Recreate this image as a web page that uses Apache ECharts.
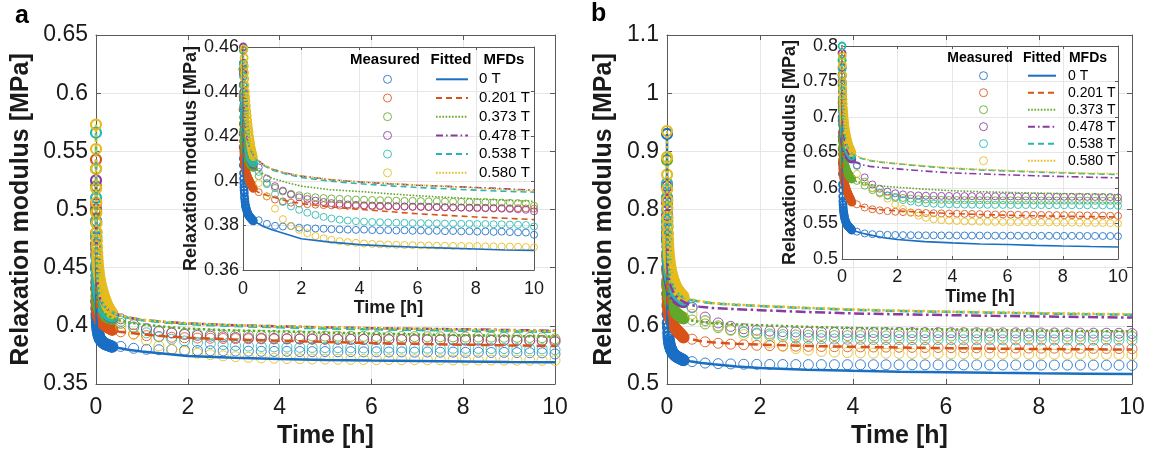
<!DOCTYPE html>
<html><head><meta charset="utf-8">
<script src="https://cdn.jsdelivr.net/npm/echarts@6/dist/echarts.min.js"></script>
<style>html,body{margin:0;padding:0;background:#fff}#c{width:1153px;height:456px}</style>
</head><body><div id="c"></div>
<script>
// ---------- data ----------
const mfdLabels = ['0 T', '0.201 T', '0.373 T', '0.478 T', '0.538 T', '0.580 T'];
const xTicksHours = [0, 2, 4, 6, 8, 10];
const yTicksMainA = [0.35, 0.4, 0.45, 0.5, 0.55, 0.6, 0.65];
const yTicksInsetA = [0.36, 0.38, 0.4, 0.42, 0.44, 0.46];
const yTicksMainB = [0.5, 0.6, 0.7, 0.8, 0.9, 1, 1.1];
const yTicksInsetB = [0.5, 0.55, 0.6, 0.65, 0.7, 0.75, 0.8];

// measurement times [h]: dense start (37) + regular samples (35)
const timeMeasured = [0, 0.001, 0.002, 0.004, 0.006, 0.008, 0.011, 0.014, 0.018, 0.022, 0.027, 0.032, 0.038, 0.045, 0.052, 0.06, 0.07, 0.08, 0.09, 0.1,
  0.115, 0.13, 0.145, 0.16, 0.175, 0.19, 0.205, 0.22, 0.235, 0.25, 0.265, 0.28, 0.295, 0.31, 0.325, 0.34, 0.355,
  0.54, 0.82, 1.10, 1.37, 1.65, 1.93, 2.21, 2.49, 2.77, 3.04, 3.32, 3.60, 3.88, 4.16, 4.44, 4.71, 4.99, 5.27, 5.55, 5.83,
  6.11, 6.38, 6.66, 6.94, 7.22, 7.50, 7.78, 8.05, 8.33, 8.61, 8.89, 9.17, 9.45, 9.72, 10.0];
const timeFitted = [0, 0.005, 0.01, 0.02, 0.04, 0.07, 0.1, 0.15, 0.2, 0.3, 0.4, 0.5, 0.7, 1, 1.5, 2, 3, 4, 5, 6, 7, 8, 9, 10];

// panel a, measured
const measA_0 = [0.500, 0.470, 0.450, 0.432, 0.421, 0.415, 0.410, 0.407, 0.4035, 0.401, 0.399, 0.3972, 0.3958, 0.3945, 0.3928, 0.3918, 0.3905, 0.3892, 0.3886, 0.3880,
  0.3874, 0.3866, 0.3860, 0.3856, 0.3849, 0.3847, 0.3843, 0.3841, 0.3838, 0.3836, 0.3833, 0.3831, 0.3829, 0.3827, 0.3824, 0.3822, 0.3820,
  0.3823, 0.3807, 0.3798, 0.3795, 0.3797, 0.3790, 0.3788, 0.3786, 0.3785, 0.3783, 0.3782, 0.3781, 0.3780, 0.3781, 0.3779, 0.3778, 0.3779, 0.3777, 0.3778, 0.3776,
  0.3777, 0.3775, 0.3776, 0.3774, 0.3775, 0.3773, 0.3774, 0.3772, 0.3773, 0.3771, 0.3772, 0.3770, 0.3769, 0.3768, 0.3758];
const measA_201 = [0.543, 0.500, 0.470, 0.450, 0.438, 0.432, 0.4255, 0.4215, 0.4178, 0.4155, 0.4132, 0.4118, 0.4102, 0.4092, 0.4080, 0.4072, 0.4062, 0.4052, 0.4046, 0.4040,
  0.4033, 0.4027, 0.4021, 0.4016, 0.4011, 0.4008, 0.4003, 0.3999, 0.3995, 0.3991, 0.3987, 0.3983, 0.3980, 0.3977, 0.3973, 0.3970, 0.3966,
  0.3949, 0.3930, 0.3916, 0.3908, 0.3902, 0.3898, 0.3895, 0.3893, 0.3891, 0.3890, 0.3889, 0.3888, 0.3887, 0.3887, 0.3886, 0.3885, 0.3885, 0.3884, 0.3884, 0.3883,
  0.3883, 0.3882, 0.3882, 0.3881, 0.3881, 0.3880, 0.3880, 0.3879, 0.3879, 0.3878, 0.3878, 0.3877, 0.3877, 0.3876, 0.3875];
const measA_373 = [0.520, 0.498, 0.480, 0.462, 0.450, 0.443, 0.4365, 0.4325, 0.4285, 0.4258, 0.4232, 0.4213, 0.4196, 0.4182, 0.4170, 0.4160, 0.4148, 0.4136, 0.4127, 0.4120,
  0.4113, 0.4106, 0.4101, 0.4097, 0.4092, 0.4089, 0.4085, 0.4081, 0.4078, 0.4076, 0.4073, 0.4071, 0.4069, 0.4067, 0.4065, 0.4063, 0.4060,
  0.4021, 0.3990, 0.3968, 0.3952, 0.3942, 0.3935, 0.3930, 0.3926, 0.3923, 0.3921, 0.3919, 0.3918, 0.3916, 0.3915, 0.3914, 0.3913, 0.3912, 0.3911, 0.3910, 0.3910,
  0.3909, 0.3908, 0.3908, 0.3907, 0.3906, 0.3906, 0.3905, 0.3904, 0.3904, 0.3903, 0.3902, 0.3901, 0.3900, 0.3898, 0.3888];
const measA_478 = [0.525, 0.505, 0.490, 0.476, 0.466, 0.460, 0.4528, 0.4480, 0.4432, 0.4398, 0.4365, 0.4340, 0.4315, 0.4293, 0.4275, 0.4258, 0.4240, 0.4222, 0.4208, 0.4195,
  0.4180, 0.4168, 0.4158, 0.4148, 0.4138, 0.4130, 0.4122, 0.4114, 0.4107, 0.4101, 0.4096, 0.4091, 0.4087, 0.4083, 0.4080, 0.4077, 0.4074,
  0.4060, 0.4010, 0.3976, 0.3956, 0.3938, 0.3926, 0.3918, 0.3911, 0.3905, 0.3900, 0.3897, 0.3894, 0.3892, 0.3890, 0.3889, 0.3888, 0.3887, 0.3886, 0.3885, 0.3884,
  0.3884, 0.3883, 0.3882, 0.3881, 0.3880, 0.3880, 0.3879, 0.3878, 0.3877, 0.3876, 0.3875, 0.3874, 0.3872, 0.3870, 0.3863];
const measA_538 = [0.566, 0.535, 0.510, 0.490, 0.477, 0.468, 0.4585, 0.4525, 0.4468, 0.4428, 0.4390, 0.4362, 0.4335, 0.4310, 0.4290, 0.4272, 0.4252, 0.4232, 0.4215, 0.4200,
  0.4182, 0.4168, 0.4156, 0.4146, 0.4136, 0.4128, 0.4120, 0.4113, 0.4108, 0.4103, 0.4099, 0.4095, 0.4091, 0.4088, 0.4085, 0.4082, 0.4079,
  0.4040, 0.3985, 0.3940, 0.3905, 0.3885, 0.3870, 0.3857, 0.3847, 0.3838, 0.3831, 0.3826, 0.3822, 0.3819, 0.3817, 0.3815, 0.3814, 0.3813, 0.3812, 0.3811, 0.3810,
  0.3810, 0.3809, 0.3809, 0.3808, 0.3808, 0.3807, 0.3807, 0.3806, 0.3806, 0.3805, 0.3805, 0.3804, 0.3803, 0.3802, 0.3795];
const measA_580 = [0.573, 0.552, 0.535, 0.518, 0.506, 0.497, 0.4880, 0.4805, 0.4735, 0.4680, 0.4628, 0.4590, 0.4552, 0.4515, 0.4485, 0.4458, 0.4428, 0.4400, 0.4378, 0.4360,
  0.4335, 0.4312, 0.4292, 0.4272, 0.4253, 0.4235, 0.4218, 0.4202, 0.4188, 0.4175, 0.4162, 0.4150, 0.4140, 0.4131, 0.4123, 0.4115, 0.4108,
  0.3990, 0.3930, 0.3875, 0.3828, 0.3797, 0.3780, 0.3765, 0.3752, 0.3742, 0.3735, 0.3729, 0.3725, 0.3722, 0.3719, 0.3717, 0.3715, 0.3714, 0.3713, 0.3712, 0.3711,
  0.3710, 0.3710, 0.3709, 0.3709, 0.3708, 0.3708, 0.3707, 0.3707, 0.3706, 0.3706, 0.3705, 0.3705, 0.3704, 0.3703, 0.3702];

// panel a, fitted
const fitA_0   = [0.500, 0.430, 0.410, 0.400, 0.394, 0.390, 0.388, 0.386, 0.3845, 0.3828, 0.3818, 0.3810, 0.3795, 0.3780, 0.3760, 0.3740, 0.3725, 0.3714, 0.3707, 0.3702, 0.3698, 0.3694, 0.3690, 0.3688];
const fitA_201 = [0.543, 0.450, 0.430, 0.418, 0.410, 0.406, 0.404, 0.4015, 0.4000, 0.3978, 0.3962, 0.3950, 0.3940, 0.3928, 0.3910, 0.3898, 0.3883, 0.3872, 0.3862, 0.3852, 0.3845, 0.3838, 0.3832, 0.3826];
const fitA_373 = [0.520, 0.460, 0.440, 0.428, 0.420, 0.416, 0.414, 0.4115, 0.4100, 0.4080, 0.4062, 0.4048, 0.4030, 0.4012, 0.3992, 0.3976, 0.3960, 0.3952, 0.3942, 0.3933, 0.3926, 0.3919, 0.3913, 0.3908];
const fitA_478 = [0.525, 0.480, 0.460, 0.445, 0.433, 0.426, 0.422, 0.4185, 0.4160, 0.4128, 0.4108, 0.4093, 0.4072, 0.4052, 0.4034, 0.4021, 0.4005, 0.3995, 0.3987, 0.3980, 0.3975, 0.3970, 0.3964, 0.3958];
const fitA_538 = [0.566, 0.490, 0.465, 0.448, 0.435, 0.427, 0.423, 0.4190, 0.4162, 0.4128, 0.4107, 0.4091, 0.4069, 0.4048, 0.4029, 0.4015, 0.3998, 0.3987, 0.3978, 0.3970, 0.3964, 0.3958, 0.3953, 0.3949];
const fitA_580 = [0.573, 0.500, 0.470, 0.452, 0.438, 0.429, 0.424, 0.4195, 0.4165, 0.4130, 0.4110, 0.4095, 0.4073, 0.4052, 0.4034, 0.4022, 0.4006, 0.3996, 0.3988, 0.3981, 0.3975, 0.3968, 0.3961, 0.3955];

// panel b, measured
const measB_0 = [0.930, 0.820, 0.750, 0.700, 0.672, 0.655, 0.635, 0.620, 0.605, 0.597, 0.588, 0.5815, 0.5765, 0.5725, 0.5690, 0.5662, 0.5635, 0.5610, 0.5590, 0.5570,
  0.5548, 0.5530, 0.5515, 0.5503, 0.5492, 0.5482, 0.5473, 0.5465, 0.5458, 0.5452, 0.5446, 0.5440, 0.5434, 0.5428, 0.5421, 0.5414, 0.5408,
  0.5385, 0.5360, 0.5350, 0.5345, 0.5340, 0.5338, 0.5336, 0.5335, 0.5334, 0.5333, 0.5333, 0.5332, 0.5332, 0.5331, 0.5331, 0.5330, 0.5330, 0.5330, 0.5329, 0.5329,
  0.5329, 0.5328, 0.5328, 0.5328, 0.5327, 0.5327, 0.5327, 0.5326, 0.5326, 0.5326, 0.5325, 0.5325, 0.5324, 0.5324, 0.5320];
const measB_201 = [0.820, 0.760, 0.720, 0.695, 0.678, 0.667, 0.6555, 0.6475, 0.6395, 0.6350, 0.6300, 0.6265, 0.6232, 0.6200, 0.6175, 0.6150, 0.6125, 0.6100, 0.6080, 0.6062,
  0.6038, 0.6015, 0.5995, 0.5978, 0.5960, 0.5946, 0.5930, 0.5917, 0.5903, 0.5891, 0.5879, 0.5866, 0.5854, 0.5842, 0.5830, 0.5815, 0.5800,
  0.5770, 0.5725, 0.5700, 0.5685, 0.5675, 0.5665, 0.5660, 0.5655, 0.5651, 0.5648, 0.5645, 0.5642, 0.5640, 0.5638, 0.5636, 0.5634, 0.5632, 0.5630, 0.5628, 0.5627,
  0.5625, 0.5624, 0.5622, 0.5621, 0.5620, 0.5619, 0.5618, 0.5617, 0.5616, 0.5615, 0.5614, 0.5613, 0.5612, 0.5610, 0.5607];
const measB_373 = [0.885, 0.815, 0.780, 0.745, 0.725, 0.712, 0.6985, 0.6890, 0.6780, 0.6715, 0.6645, 0.6595, 0.6545, 0.6500, 0.6465, 0.6435, 0.6405, 0.6378, 0.6355, 0.6335,
  0.6310, 0.6290, 0.6272, 0.6256, 0.6240, 0.6226, 0.6214, 0.6203, 0.6193, 0.6184, 0.6175, 0.6166, 0.6158, 0.6150, 0.6142, 0.6135, 0.6127,
  0.6100, 0.6033, 0.5970, 0.5930, 0.5898, 0.5875, 0.5860, 0.5850, 0.5843, 0.5838, 0.5835, 0.5833, 0.5831, 0.5830, 0.5829, 0.5828, 0.5828, 0.5827, 0.5827, 0.5826,
  0.5826, 0.5825, 0.5825, 0.5824, 0.5824, 0.5823, 0.5823, 0.5822, 0.5822, 0.5821, 0.5821, 0.5820, 0.5820, 0.5820, 0.5818];
const measB_478 = [0.840, 0.812, 0.790, 0.770, 0.758, 0.748, 0.7360, 0.7270, 0.7160, 0.7080, 0.7005, 0.6950, 0.6895, 0.6845, 0.6805, 0.6770, 0.6730, 0.6695, 0.6665, 0.6640,
  0.6608, 0.6580, 0.6556, 0.6535, 0.6515, 0.6497, 0.6482, 0.6470, 0.6460, 0.6451, 0.6443, 0.6436, 0.6430, 0.6424, 0.6418, 0.6413, 0.6408,
  0.6320, 0.6150, 0.6050, 0.5990, 0.5950, 0.5925, 0.5910, 0.5900, 0.5895, 0.5892, 0.5890, 0.5889, 0.5888, 0.5887, 0.5886, 0.5885, 0.5885, 0.5884, 0.5883, 0.5883,
  0.5882, 0.5881, 0.5881, 0.5880, 0.5879, 0.5879, 0.5878, 0.5877, 0.5877, 0.5876, 0.5875, 0.5874, 0.5873, 0.5872, 0.5867];
const measB_538 = [0.845, 0.820, 0.800, 0.780, 0.768, 0.758, 0.7460, 0.7370, 0.7265, 0.7185, 0.7110, 0.7055, 0.7000, 0.6950, 0.6905, 0.6865, 0.6822, 0.6785, 0.6755, 0.6730,
  0.6700, 0.6670, 0.6645, 0.6622, 0.6602, 0.6583, 0.6565, 0.6550, 0.6536, 0.6523, 0.6511, 0.6500, 0.6490, 0.6480, 0.6470, 0.6460, 0.6450,
  0.6310, 0.6090, 0.6000, 0.5935, 0.5890, 0.5860, 0.5830, 0.5810, 0.5795, 0.5785, 0.5778, 0.5773, 0.5770, 0.5768, 0.5766, 0.5765, 0.5764, 0.5763, 0.5762, 0.5762,
  0.5761, 0.5760, 0.5760, 0.5759, 0.5759, 0.5758, 0.5758, 0.5757, 0.5757, 0.5756, 0.5756, 0.5755, 0.5755, 0.5754, 0.5750];
const measB_580 = [0.935, 0.890, 0.860, 0.835, 0.816, 0.803, 0.7860, 0.7730, 0.7590, 0.7490, 0.7395, 0.7320, 0.7250, 0.7185, 0.7130, 0.7080, 0.7025, 0.6975, 0.6935, 0.6900,
  0.6855, 0.6812, 0.6775, 0.6742, 0.6712, 0.6685, 0.6660, 0.6638, 0.6618, 0.6600, 0.6584, 0.6570, 0.6556, 0.6543, 0.6530, 0.6515, 0.6500,
  0.6200, 0.6080, 0.5995, 0.5920, 0.5850, 0.5770, 0.5705, 0.5650, 0.5610, 0.5580, 0.5560, 0.5548, 0.5540, 0.5535, 0.5530, 0.5528, 0.5526, 0.5524, 0.5522, 0.5521,
  0.5520, 0.5519, 0.5518, 0.5517, 0.5516, 0.5515, 0.5514, 0.5513, 0.5512, 0.5511, 0.5510, 0.5509, 0.5508, 0.5506, 0.5500];

// panel b, fitted
const fitB_0   = [0.930, 0.650, 0.610, 0.590, 0.575, 0.565, 0.559, 0.552, 0.548, 0.5430, 0.5405, 0.5390, 0.5365, 0.5340, 0.5300, 0.5275, 0.5245, 0.5227, 0.5212, 0.5204, 0.5192, 0.5183, 0.5176, 0.5170];
const fitB_201 = [0.820, 0.680, 0.650, 0.632, 0.620, 0.610, 0.604, 0.597, 0.592, 0.585, 0.580, 0.5775, 0.5740, 0.5715, 0.5690, 0.5678, 0.5655, 0.5640, 0.5627, 0.5617, 0.5608, 0.5602, 0.5597, 0.5592];
const fitB_373 = [0.885, 0.740, 0.700, 0.675, 0.658, 0.647, 0.641, 0.633, 0.627, 0.619, 0.614, 0.6095, 0.6070, 0.6045, 0.6025, 0.6010, 0.5983, 0.5962, 0.5948, 0.5938, 0.5928, 0.5920, 0.5912, 0.5905];
const fitB_478 = [0.840, 0.750, 0.720, 0.700, 0.683, 0.671, 0.664, 0.656, 0.651, 0.644, 0.6395, 0.6360, 0.6330, 0.6305, 0.6285, 0.6270, 0.6238, 0.6213, 0.6198, 0.6185, 0.6172, 0.6162, 0.6152, 0.6142];
const fitB_538 = [0.845, 0.780, 0.745, 0.718, 0.697, 0.683, 0.675, 0.666, 0.659, 0.651, 0.6475, 0.6450, 0.6415, 0.6385, 0.6360, 0.6340, 0.6305, 0.6275, 0.6255, 0.6240, 0.6225, 0.6212, 0.6200, 0.6190];
const fitB_580 = [0.935, 0.800, 0.760, 0.728, 0.703, 0.688, 0.679, 0.669, 0.662, 0.653, 0.6485, 0.6460, 0.6425, 0.6392, 0.6365, 0.6345, 0.6310, 0.6282, 0.6262, 0.6246, 0.6232, 0.6219, 0.6208, 0.6200];

// ---------- styling ----------
const FONT = '"Liberation Sans", Arial, Helvetica, sans-serif';
const colors = ['#1a6fc4', '#d95319', '#62a82c', '#8a3aa0', '#25b7b0', '#e6bb1c'];
const dashMain  = ['solid', [9, 5], [2.5, 2.5], [10, 3.5, 2.5, 3.5], [9, 5], [2.5, 2.5]];
const dashInset = ['solid', [6, 4], [1.6, 1.6], [7, 3, 1.6, 3], [6, 4], [1.6, 1.6]];
const AXC = '#5a5a5a', TXT = '#1a1a1a', GRIDC = '#e6e6e6';
const DENSE_END_H = 0.4;   // the heavily sampled start of each test draws as a solid band

function rangeOf(t) { return { min: t[0], max: t[t.length - 1], interval: +(t[1] - t[0]).toFixed(6) }; }
function zip(ts, vs) { return ts.map((t, k) => [t, vs[k]]); }
function zipMeasured(ts, vs, denseW) {
  return ts.map((t, k) => t < DENSE_END_H
    ? { value: [t, vs[k]], itemStyle: { borderWidth: denseW, opacity: 1 } }
    : [t, vs[k]]);
}

const xAxes = [], yAxes = [];
function makeAxes(gi, xT, yT, s) {
  const xr = rangeOf(xT), yr = rangeOf(yT);
  const base = { type: 'value', gridIndex: gi, z: s.z,
    axisLine: { show: true, onZero: false, lineStyle: { color: AXC, width: 1 } },
    axisTick: { show: true, inside: true, length: s.tick, lineStyle: { color: AXC, width: 1 } } };
  const nameStyle = { fontSize: s.name, fontWeight: 'bold', color: TXT, fontFamily: FONT };
  xAxes.push(Object.assign({}, base, xr, { position: 'bottom',
    axisLabel: { fontSize: s.label, color: TXT, fontFamily: FONT, margin: s.xm },
    splitLine: { show: true, lineStyle: { color: GRIDC, width: 1 } },
    name: 'Time [h]', nameLocation: 'middle', nameGap: s.xng, nameTextStyle: nameStyle }));
  xAxes.push(Object.assign({}, base, xr, { position: 'top', axisLabel: { show: false }, splitLine: { show: false } }));
  yAxes.push(Object.assign({}, base, yr, { position: 'left',
    axisLabel: { fontSize: s.label, color: TXT, fontFamily: FONT, margin: s.ym },
    splitLine: { show: true, lineStyle: { color: GRIDC, width: 1 } },
    name: 'Relaxation modulus [MPa]', nameLocation: 'middle', nameGap: s.yng, nameTextStyle: nameStyle }));
  yAxes.push(Object.assign({}, base, yr, { position: 'right', axisLabel: { show: false }, splitLine: { show: false } }));
}

makeAxes(0, xTicksHours, yTicksMainA,  { z: 0,  tick: 5, label: 23, name: 25, xm: 12, ym: 8, xng: 40, yng: 62 });
makeAxes(1, xTicksHours, yTicksInsetA, { z: 11, tick: 3, label: 18, name: 18, xm: 10, ym: 4, xng: 29, yng: 41 });
makeAxes(2, xTicksHours, yTicksMainB,  { z: 0,  tick: 5, label: 23, name: 25, xm: 12, ym: 8, xng: 40, yng: 50 });
makeAxes(3, xTicksHours, yTicksInsetB, { z: 11, tick: 3, label: 18, name: 18, xm: 9,  ym: 4, xng: 29, yng: 36 });

const panels = [
  { key: 'a', main: 0, inset: 1, meas: [measA_0, measA_201, measA_373, measA_478, measA_538, measA_580],
    fit: [fitA_0, fitA_201, fitA_373, fitA_478, fitA_538, fitA_580] },
  { key: 'b', main: 2, inset: 3, meas: [measB_0, measB_201, measB_373, measB_478, measB_538, measB_580],
    fit: [fitB_0, fitB_201, fitB_373, fitB_478, fitB_538, fitB_580] }
];

const series = [];
panels.forEach(p => {
  [[p.main, 10, 2.5, dashMain, 2, 2.2], [p.inset, 7, 1.6, dashInset, 12, 1.8]].forEach(([g, sym, lw, dashes, z, denseW]) => {
    mfdLabels.forEach((lab, i) => {
      series.push({ type: 'scatter', name: p.key + '|' + lab + '|m', xAxisIndex: 2 * g, yAxisIndex: 2 * g,
        data: zipMeasured(timeMeasured, p.meas[i], denseW), symbol: 'circle', symbolSize: sym, z: z, silent: true,
        itemStyle: { color: 'transparent', borderColor: colors[i], borderWidth: 1, opacity: 0.85 } });
    });
    mfdLabels.forEach((lab, i) => {
      series.push({ type: 'line', name: p.key + '|' + lab + '|f', xAxisIndex: 2 * g, yAxisIndex: 2 * g,
        data: zip(timeFitted, p.fit[i]), symbol: 'none', showSymbol: false, z: z + 1, silent: true,
        lineStyle: { color: colors[i], width: lw, type: dashes[i] }, itemStyle: { color: colors[i] } });
    });
  });
});

function legendPair(key, circleLeft, lineLeft, top, fs, gap, lineW, txtPad) {
  return [
    { orient: 'vertical', left: circleLeft, top: top, padding: 0, itemGap: gap, itemWidth: 8, itemHeight: 12,
      selectedMode: false, z: 20, formatter: () => '\u200b', textStyle: { fontSize: fs, fontFamily: FONT },
      data: mfdLabels.map((l, i) => ({ name: key + '|' + l + '|m', icon: 'circle',
        itemStyle: { color: 'transparent', borderColor: colors[i], borderWidth: 1 } })) },
    { orient: 'vertical', left: lineLeft, top: top, padding: 0, itemGap: gap, itemWidth: lineW, itemHeight: 12,
      selectedMode: false, z: 20, formatter: n => n.split('|')[1],
      textStyle: { fontSize: fs, color: '#000', fontFamily: FONT, padding: [0, 0, 0, txtPad] },
      data: mfdLabels.map((l, i) => ({ name: key + '|' + l + '|f',
        itemStyle: { color: 'transparent', borderColor: 'transparent', borderWidth: 0, opacity: 0 },
        lineStyle: { color: colors[i], width: 2, type: dashInset[i] } })) }
  ];
}

function txt(t, x, y, font, align, va) {
  return { type: 'text', x: x, y: y, z: 100, silent: true,
    style: { text: t, font: font, fill: '#000', align: align, textAlign: align, verticalAlign: va, textVerticalAlign: va } };
}

const option = {
  animation: false,
  backgroundColor: '#fff',
  grid: [
    { left: 96, right: 598, top: 35, bottom: 72, outerBoundsMode: 'none', containLabel: false },
    { left: 243, right: 619, top: 47, bottom: 186, show: true, backgroundColor: '#fff', borderWidth: 0, z: 10, outerBoundsMode: 'none', containLabel: false },
    { left: 667, right: 21, top: 35, bottom: 72, outerBoundsMode: 'none', containLabel: false },
    { left: 842, right: 35, top: 46, bottom: 197, show: true, backgroundColor: '#fff', borderWidth: 0, z: 10, outerBoundsMode: 'none', containLabel: false }
  ],
  xAxis: xAxes,
  yAxis: yAxes,
  legend: legendPair('a', 383, 435, 71.8, 15, 3.7, 32, 6).concat(legendPair('b', 979, 1027, 68.7, 14, 3, 28, 7)),
  graphic: [
    txt('a', 15, 4, 'bold 25px ' + FONT, 'left', 'top'),
    txt('b', 591, 2, 'bold 25px ' + FONT, 'left', 'top'),
    txt('Measured', 385, 60, 'bold 15px ' + FONT, 'center', 'middle'),
    txt('Fitted', 451, 60, 'bold 15px ' + FONT, 'center', 'middle'),
    txt('MFDs', 504, 60, 'bold 15px ' + FONT, 'center', 'middle'),
    txt('Measured', 980, 58, 'bold 14px ' + FONT, 'center', 'middle'),
    txt('Fitted', 1042, 58, 'bold 14px ' + FONT, 'center', 'middle'),
    txt('MFDs', 1088, 58, 'bold 14px ' + FONT, 'center', 'middle')
  ],
  series: series
};

const chart = echarts.init(document.getElementById('c'), null, { renderer: 'canvas' });
chart.setOption(option);
</script>
</body></html>
